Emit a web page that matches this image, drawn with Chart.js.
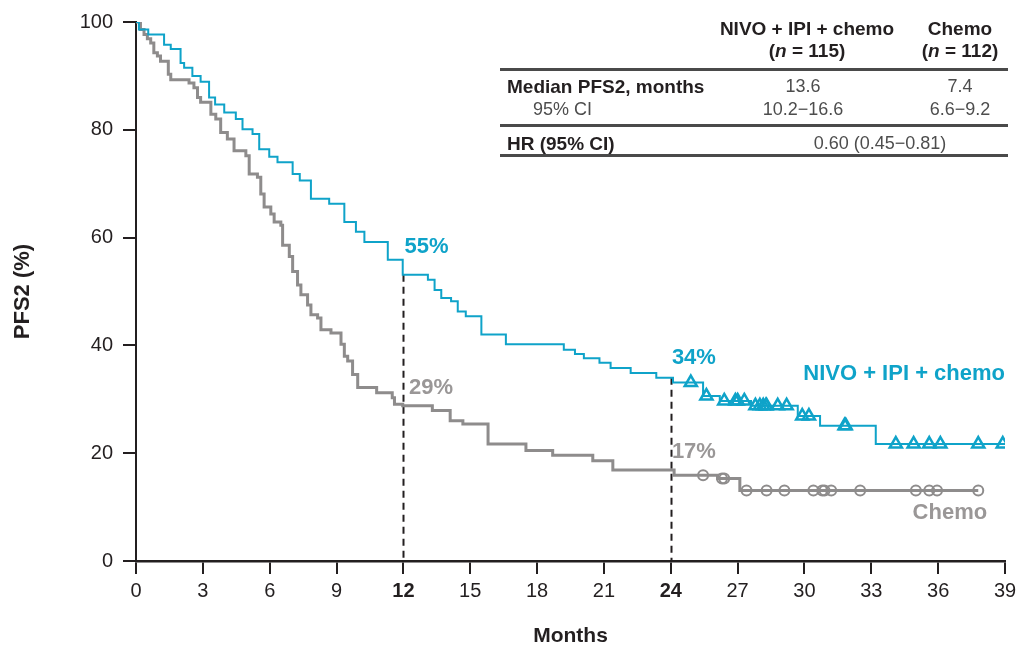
<!DOCTYPE html>
<html><head><meta charset="utf-8">
<script src="https://cdn.jsdelivr.net/npm/chart.js@4.4.1/dist/chart.umd.min.js"></script>
<style>
html,body{margin:0;padding:0;background:#fff;}
#wrap{position:relative;width:1024px;height:651px;font-family:"Liberation Sans",Arial,Helvetica,sans-serif;color:#231f20;overflow:hidden;}
canvas{position:absolute;left:0;top:0;}
.t{position:absolute;white-space:nowrap;line-height:1;}
.b{font-weight:bold;font-size:19px;color:#231f20;}
.r{font-size:18px;color:#4d4d4d;}
.c{transform:translate(-50%,-50%);}
.l{transform:translateY(-50%);}
.rule{position:absolute;left:500px;width:508px;height:3px;background:#4a4a4a;}
</style></head><body>
<div id="wrap">
<canvas id="c" width="1024" height="651"></canvas>
<div class="t b c" style="left:807px;top:28px;">NIVO + IPI + chemo</div>
<div class="t b c" style="left:807px;top:50px;">(<i>n</i> = 115)</div>
<div class="t b c" style="left:960px;top:28px;">Chemo</div>
<div class="t b c" style="left:960px;top:50px;">(<i>n</i> = 112)</div>
<div class="rule" style="top:68px;"></div>
<div class="t b l" style="left:507px;top:86px;">Median PFS2, months</div>
<div class="t r c" style="left:803px;top:86px;">13.6</div>
<div class="t r c" style="left:960px;top:86px;">7.4</div>
<div class="t r l" style="left:533px;top:109px;">95% CI</div>
<div class="t r c" style="left:803px;top:109px;">10.2−16.6</div>
<div class="t r c" style="left:960px;top:109px;">6.6−9.2</div>
<div class="rule" style="top:124px;"></div>
<div class="t b l" style="left:507px;top:143px;">HR (95% CI)</div>
<div class="t r c" style="left:880px;top:143px;">0.60 (0.45−0.81)</div>
<div class="rule" style="top:154px;"></div>
</div>
<script>
// ---- data ----
const xTicks = [0,3,6,9,12,15,18,21,24,27,30,33,36,39];
const boldTicks = [12,24];
const yTicks = [0,20,40,60,80,100];

const nivoTimes = [0,0.13,0.55,1.26,1.56,2.0,2.16,2.53,2.9,3.28,3.55,3.96,4.48,4.78,5.23,5.53,5.98,6.35,7.03,7.35,7.85,8.67,9.35,9.87,10.25,11.3,11.97,13.1,13.4,13.7,14.14,14.44,14.8,15.5,16.6,19.2,19.7,20.1,20.8,21.3,22.2,23.35,24.1,25.45,26.2,27.6,29.7,30.7,33.2,39.0];
const nivoSurv  = [100,98.6,97.7,95.8,95.0,92.4,91.5,90.0,88.9,86.0,84.7,83.2,82.0,80.1,79.2,76.4,75.0,74.0,71.8,70.6,67.2,66.3,62.9,61.1,59.2,55.9,53.1,52.2,50.3,48.8,48.2,46.3,45.4,42.0,40.2,39.2,38.4,37.6,36.8,35.8,34.9,34.0,33.1,30.6,29.7,28.8,26.9,25.1,21.7,21.7];
const nivoCensor = [24.9,25.6,26.4,26.9,27.0,27.3,27.8,28.0,28.15,28.27,28.3,28.8,29.2,29.9,30.2,31.8,31.85,34.1,34.9,35.6,36.1,37.8,38.9];

const chemoTimes = [0,0.2,0.36,0.51,0.66,0.8,0.96,1.1,1.45,1.56,2.38,2.6,2.76,2.9,3.36,3.58,3.8,4.1,4.4,4.93,5.08,5.45,5.6,5.75,6.05,6.2,6.5,6.58,6.88,7.03,7.25,7.4,7.7,7.85,8.15,8.3,8.75,9.2,9.35,9.5,9.72,9.95,10.8,11.5,11.6,11.97,13.3,14.1,14.67,15.8,17.5,18.7,20.5,21.4,24.15,26.1,27.1,37.8];
const chemoSurv  = [100,98.6,97.7,96.9,96.1,94.3,93.7,92.7,90.3,89.3,88.7,87.8,86.0,85.1,82.9,82.0,79.5,78.3,76.1,75.2,71.8,71.2,68.1,65.7,64.4,62.9,62.3,58.6,56.5,53.7,51.2,49.4,47.5,45.7,45.1,42.9,42.3,40.2,38.0,37.1,34.6,32.2,31.2,30.3,29.1,28.8,27.9,26.0,25.4,21.7,20.5,19.6,18.6,16.9,15.9,15.3,13.1,13.1];
const chemoCensor = [25.45,26.3,26.4,27.4,28.3,29.1,30.4,30.8,30.9,31.2,32.5,35.0,35.6,35.95,37.8];

const landmarks = [12,24];
const landmarkLabelsNivo = ['55%','34%'];
const landmarkLabelsChemo = ['29%','17%'];
const seriesNames = ['NIVO + IPI + chemo','Chemo'];

// ---- helpers ----
const BLUE = '#0fa3c9';
const GRAY = '#8e8c8c';
const GRAY_TXT = '#9a9797';
const INK = '#231f20';
const FONT = '"Liberation Sans", Arial, Helvetica, sans-serif';

function toPts(t, s){ return t.map((x,i)=>({x:x, y:s[i]})); }
function survAt(t, s, at){ let v = s[0]; for(let i=0;i<t.length;i++){ if(t[i] <= at) v = s[i]; else break; } return v; }
function censorPts(ct, t, s){ return ct.map(x=>({x:x, y:survAt(t,s,x)})); }

const annotPlugin = {
  id:'annot',
  beforeDatasetsDraw(chart){
    const {ctx, scales:{x,y}} = chart;
    ctx.save();
    ctx.strokeStyle = INK; ctx.lineWidth = 2; ctx.setLineDash([7,5]);
    landmarks.forEach(m=>{
      const px = Math.round(x.getPixelForValue(m))+0.5;
      ctx.beginPath();
      ctx.moveTo(px, y.getPixelForValue(survAt(nivoTimes,nivoSurv,m)));
      ctx.lineTo(px, y.getPixelForValue(0));
      ctx.stroke();
    });
    ctx.restore();
  },
  afterDatasetsDraw(chart){
    const {ctx, scales:{x,y}} = chart;
    ctx.save();
    ctx.textBaseline = 'middle';
    ctx.font = 'bold 22px ' + FONT;
    ctx.textAlign = 'left';
    ctx.fillStyle = BLUE;
    ctx.fillText(landmarkLabelsNivo[0], x.getPixelForValue(12.05), y.getPixelForValue(58.3));
    ctx.fillText(landmarkLabelsNivo[1], x.getPixelForValue(24.05), y.getPixelForValue(37.6));
    ctx.fillStyle = GRAY_TXT;
    ctx.fillText(landmarkLabelsChemo[0], x.getPixelForValue(12.25), y.getPixelForValue(32.1));
    ctx.fillText(landmarkLabelsChemo[1], x.getPixelForValue(24.05), y.getPixelForValue(20.3));
    ctx.textAlign = 'right';
    ctx.fillStyle = BLUE;
    ctx.fillText(seriesNames[0], x.getPixelForValue(39), y.getPixelForValue(34.7));
    ctx.fillStyle = GRAY_TXT;
    ctx.fillText(seriesNames[1], x.getPixelForValue(38.2), y.getPixelForValue(8.9));
    ctx.restore();
  }
};

new Chart(document.getElementById('c'), {
  type:'line',
  data:{
    datasets:[
      {label:'NIVO censor', data:censorPts(nivoCensor,nivoTimes,nivoSurv), showLine:false, pointStyle:'triangle', pointRadius:7, pointBorderWidth:2.5, pointBorderColor:BLUE, pointBackgroundColor:'rgba(255,255,255,0)', order:0},
      {label:'Chemo censor', data:censorPts(chemoCensor,chemoTimes,chemoSurv), showLine:false, pointStyle:'circle', pointRadius:5, pointBorderWidth:2, pointBorderColor:GRAY, pointBackgroundColor:'rgba(255,255,255,0)', order:1},
      {label:seriesNames[0], data:toPts(nivoTimes,nivoSurv), stepped:'before', borderColor:BLUE, borderWidth:2, pointRadius:0, fill:false, order:2},
      {label:seriesNames[1], data:toPts(chemoTimes,chemoSurv), stepped:'before', borderColor:GRAY, borderWidth:3, pointRadius:0, fill:false, order:3}
    ]
  },
  options:{
    responsive:false, animation:false, events:[],
    layout:{padding:{left:0, right:19, top:16, bottom:0}},
    plugins:{legend:{display:false}, tooltip:{enabled:false}},
    scales:{
      x:{type:'linear', min:0, max:39,
        afterBuildTicks:s=>{ s.ticks = xTicks.map(v=>({value:v})); },
        afterFit:s=>{ s.height = 90; },
        grid:{drawOnChartArea:false, drawTicks:true, tickLength:13, color:INK, lineWidth:2},
        border:{display:true, color:INK, width:2.5},
        ticks:{padding:5, color:INK, maxRotation:0, autoSkip:false,
          font:ctx=>({family:FONT, size:20, weight:(ctx.tick && boldTicks.includes(ctx.tick.value))?'bold':'normal'})},
        title:{display:true, text:'Months', color:INK, font:{family:FONT, size:21, weight:'bold'}, padding:{top:0, bottom:2}}
      },
      y:{type:'linear', min:0, max:100,
        afterBuildTicks:s=>{ s.ticks = yTicks.map(v=>({value:v})); },
        afterFit:s=>{ s.width = 136; },
        grid:{drawOnChartArea:false, drawTicks:true, tickLength:13, color:INK, lineWidth:2},
        border:{display:true, color:INK, width:2},
        ticks:{padding:10, color:INK, font:{family:FONT, size:20}},
        title:{display:true, text:'PFS2 (%)', color:INK, font:{family:FONT, size:22, weight:'bold'}, padding:{top:10, bottom:0}}
      }
    }
  },
  plugins:[annotPlugin]
});
</script>
</body></html>
